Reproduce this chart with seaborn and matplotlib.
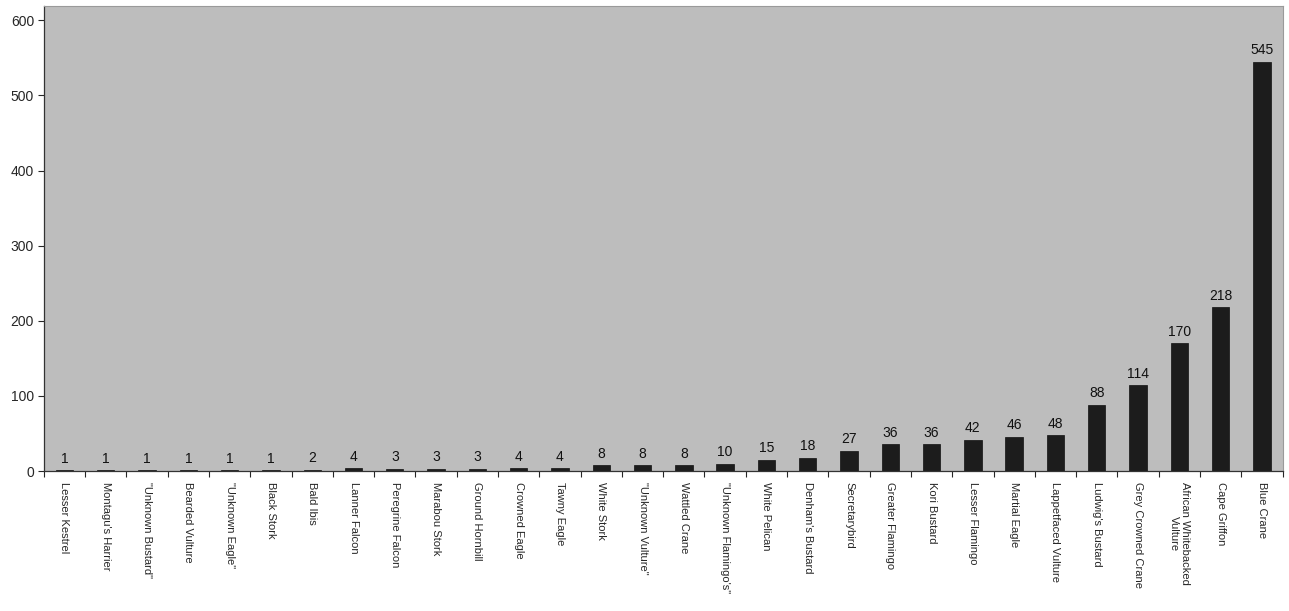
import matplotlib
matplotlib.use("Agg")
import matplotlib.pyplot as plt
import seaborn as sns
import numpy as np

# bird species and counts
species = [
    "Lesser Kestrel", "Montagu's Harrier", "\"Unknown Bustard\"", "Bearded Vulture",
    "\"Unknown Eagle\"", "Black Stork", "Bald Ibis", "Lanner Falcon", "Peregrine Falcon",
    "Marabou Stork", "Ground Hornbill", "Crowned Eagle", "Tawny Eagle", "White Stork",
    "\"Unknown Vulture\"", "Wattled Crane", "\"Unknown Flamingo's\"", "White Pelican",
    "Denham's Bustard", "Secretarybird", "Greater Flamingo", "Kori Bustard",
    "Lesser Flamingo", "Martial Eagle", "Lappetfaced Vulture", "Ludwig's Bustard",
    "Grey Crowned Crane", "African Whitebacked\nVulture", "Cape Griffon", "Blue Crane",
]
counts = [1, 1, 1, 1, 1, 1, 2, 4, 3, 3, 3, 4, 4, 8, 8, 8, 10, 15, 18, 27,
          36, 36, 42, 46, 48, 88, 114, 170, 218, 545]

sns.set_style("white")
plt.rcParams['font.family'] = ['Liberation Sans', 'DejaVu Sans']

fig = plt.figure(figsize=(12.89, 6.11), dpi=100)
ax = fig.add_axes([0.034, 0.229, 0.961, 0.761])
ax.set_facecolor("#bdbdbd")

x = np.arange(len(species))
sns.barplot(x=x, y=counts, color="#1c1c1c", width=0.42, ax=ax, native_scale=True,
            saturation=1, edgecolor="#111111", linewidth=0.5)

ax.set_xlim(-0.5, len(species) - 0.5)
ax.set_ylim(0, 619)
ax.set_yticks(range(0, 601, 100))
ax.tick_params(axis="y", labelsize=10, length=4, width=0.8, direction="out", left=True, pad=3)

# category labels, rotated downwards
ax.set_xticks(x)
ax.set_xticklabels(species, rotation=270, fontsize=8, va="top", ha="center",
                   multialignment="center")
ax.tick_params(axis="x", which="major", length=0, pad=8)
ax.set_xticks(np.arange(-0.5, len(species), 1), minor=True)
ax.tick_params(axis="x", which="minor", length=4, width=0.8, direction="out", bottom=True)

for xi, v in zip(x, counts):
    ax.text(xi, v + 6, str(v), ha="center", va="bottom", fontsize=10, color="#111111")

for side in ["left", "bottom"]:
    ax.spines[side].set_color("#333333")
    ax.spines[side].set_linewidth(0.9)
for side in ["top", "right"]:
    ax.spines[side].set_color("#9a9a9a")
    ax.spines[side].set_linewidth(0.8)

ax.set_xlabel("")
ax.set_ylabel("")

fig.savefig("out.png", dpi=100, facecolor="white")
